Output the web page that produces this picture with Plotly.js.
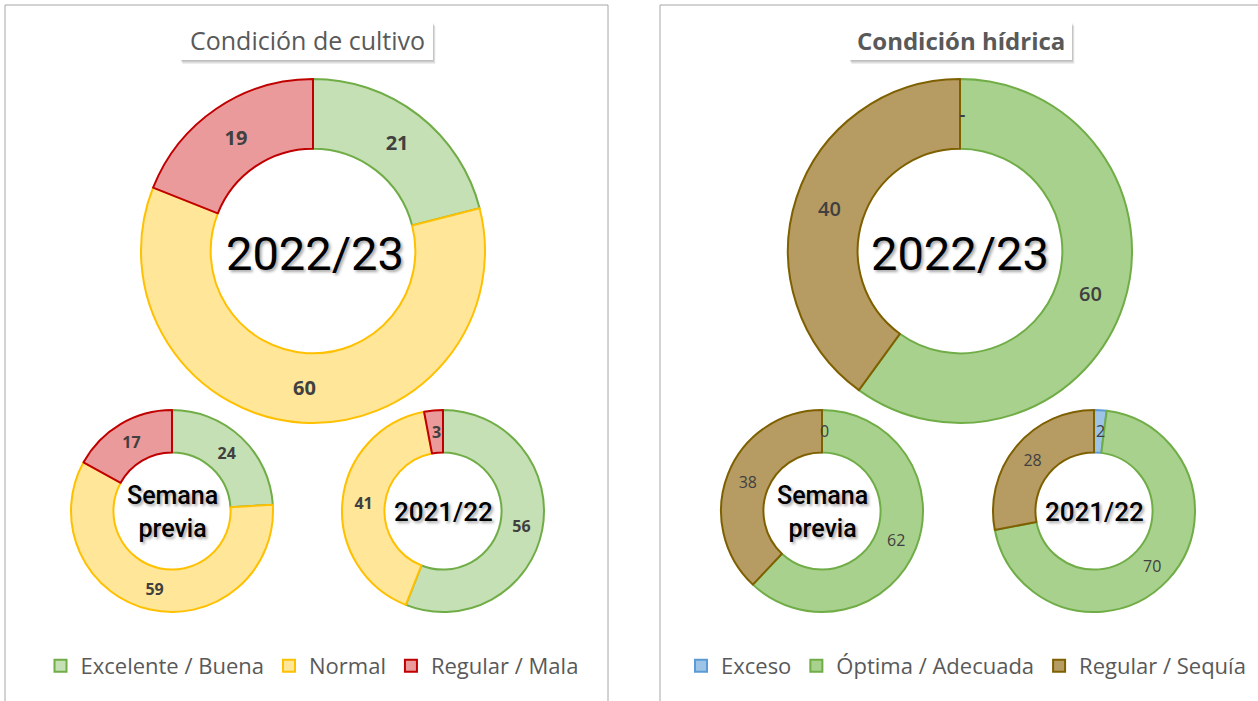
<!DOCTYPE html>
<html>
<head>
<meta charset="utf-8">
<script src="https://cdn.plot.ly/plotly-3.0.1.min.js"></script>
<style>html,body{margin:0;padding:0;background:#fff;}#chart{width:1258px;height:701px;}</style>
</head>
<body>
<div id="chart"></div>
<script>
// ---- data ----
var cultivoLabels = ['Excelente / Buena', 'Normal', 'Regular / Mala'];
var cultivoActual = [21, 60, 19];
var cultivoPrevia = [24, 59, 17];
var cultivo2122 = [56, 41, 3];

var hidricaLabels = ['Exceso', 'Óptima / Adecuada', 'Regular / Sequía'];
var hidricaActual = [0, 60, 40];
var hidricaPrevia = [0, 62, 38];
var hidrica2122 = [2, 70, 28];

var centerLabels = ['2022/23', 'Semana<br>previa', '2021/22'];
var panelTitles = ['Condición de cultivo', 'Condición hídrica'];

// ---- styling / geometry ----
var W = 1258, H = 701;
function px(x) { return x / W; }
function py(y) { return 1 - y / H; }

var cultivoFill = ['#C5E0B4', '#FFE699', '#EA9A9A'];
var cultivoLine = ['#70AD47', '#FFC000', '#C00000'];
var hidricaFill = ['#9DC3E6', '#A9D18E', '#B69C63'];
var hidricaLine = ['#5B9BD5', '#70AD47', '#7F6000'];

function dom(cx, cy, r) {
  return { x: [px(cx - r), px(cx + r)], y: [py(cy + r), py(cy - r)] };
}

var annotations = [];
var labelColor = '#404040';

// labels for very thin slices (too narrow for Plotly's inside text) go to annotations
function pieTrace(labels, values, dashZero, fill, line, cx, cy, r, hole, fsize, fweight, legend, showleg) {
  var total = values.reduce(function (a, b) { return a + b; }, 0);
  var cum = 0;
  var text = values.map(function (v) {
    var label = (v === 0 && dashZero) ? '-' : String(v);
    var mid = (cum + v / 2) / total * 2 * Math.PI;
    cum += v;
    if (v / total < 0.035) {
      var rm = r * (1 + hole) / 2;
      annotations.push({ text: label, xref: 'paper', yref: 'paper', showarrow: false,
        x: px(cx + rm * Math.sin(mid) + (v === 0 ? 2 : 1)), y: py(cy - rm * Math.cos(mid)),
        xanchor: 'center', yanchor: 'middle',
        font: { family: 'Open Sans', size: fsize, color: labelColor, weight: fweight } });
      return '';
    }
    return label;
  });
  return {
    type: 'pie', labels: labels, values: values, text: text,
    textinfo: 'text', textposition: 'inside', insidetextorientation: 'horizontal',
    sort: false, direction: 'clockwise', rotation: 0, hole: hole,
    domain: dom(cx, cy, r),
    marker: { colors: fill, line: { color: line, width: 2 } },
    textfont: { family: 'Open Sans', size: fsize, color: labelColor, weight: fweight },
    hoverinfo: 'skip', legend: legend, showlegend: showleg
  };
}

var data = [
  pieTrace(cultivoLabels, cultivoActual, true, cultivoFill, cultivoLine, 313, 251, 172, 0.595, 20, 700, 'legend', true),
  pieTrace(cultivoLabels, cultivoPrevia, false, cultivoFill, cultivoLine, 172, 511, 101, 0.58, 16, 700, 'legend', false),
  pieTrace(cultivoLabels, cultivo2122, false, cultivoFill, cultivoLine, 443, 511, 101, 0.58, 16, 700, 'legend', false),
  pieTrace(hidricaLabels, hidricaActual, true, hidricaFill, hidricaLine, 960, 251, 172, 0.595, 20, 600, 'legend2', true),
  pieTrace(hidricaLabels, hidricaPrevia, false, hidricaFill, hidricaLine, 822, 511, 101, 0.58, 16, 400, 'legend2', false),
  pieTrace(hidricaLabels, hidrica2122, false, hidricaFill, hidricaLine, 1094, 511, 101, 0.58, 16, 400, 'legend2', false)
];

var shadow = '2px 2px 3px rgba(0,0,0,0.35)';
function centerAnn(text, x, y, size, weight) {
  return { text: text, x: px(x), y: py(y), xref: 'paper', yref: 'paper', showarrow: false,
    xanchor: 'center', yanchor: 'middle',
    font: { family: 'Roboto', size: size, color: '#000', weight: weight, shadow: shadow } };
}

annotations.push(
  centerAnn(centerLabels[0], 315, 253, 47, 400),
  centerAnn(centerLabels[1], 172, 512, 25, 500),
  centerAnn(centerLabels[2], 443, 512, 26, 500),
  centerAnn(centerLabels[0], 960, 253, 47, 400),
  centerAnn(centerLabels[1], 822, 512, 25, 500),
  centerAnn(centerLabels[2], 1094, 512, 26, 500),
  { text: panelTitles[0], x: px(307), y: py(40), xref: 'paper', yref: 'paper', showarrow: false,
    xanchor: 'center', yanchor: 'middle', font: { family: 'Open Sans', size: 25, color: '#595959' } },
  { text: panelTitles[1], x: px(961), y: py(40), xref: 'paper', yref: 'paper', showarrow: false,
    xanchor: 'center', yanchor: 'middle', font: { family: 'Open Sans', size: 24, color: '#595959', weight: 700 } }
);

function rect(x0, y0, x1, y1, fill, lineColor, lw, layer, opacity) {
  return { type: 'rect', xref: 'paper', yref: 'paper', x0: px(x0), x1: px(x1), y0: py(y1), y1: py(y0),
    fillcolor: fill, line: { color: lineColor, width: lw }, layer: layer, opacity: opacity === undefined ? 1 : opacity };
}
var shapes = [
  rect(5, 5, 608, 720, 'rgba(0,0,0,0)', '#A6A6A6', 1, 'below'),
  rect(660, 5, 1270, 720, 'rgba(0,0,0,0)', '#A6A6A6', 1, 'below')
];
// title boxes with soft shadow
[[180, 22, 433, 60], [849, 22, 1072, 60]].forEach(function (b) {
  for (var i = 4; i >= 1; i--) {
    shapes.push(rect(b[0] + i * 0.6, b[1] + i, b[2] + i * 0.6, b[3] + i, '#000', 'rgba(0,0,0,0)', 0, 'below', 0.07));
  }
  shapes.push(rect(b[0], b[1], b[2], b[3], '#fff', 'rgba(0,0,0,0)', 0, 'below'));
});

var legendFont = { family: 'Open Sans', size: 22, color: '#595959' };
var layout = {
  width: W, height: H, margin: { l: 0, r: 0, t: 0, b: 0 },
  paper_bgcolor: '#fff', plot_bgcolor: '#fff',
  annotations: annotations, shapes: shapes,
  legend: { orientation: 'h', x: px(312), y: py(666), xanchor: 'center', yanchor: 'middle',
    font: legendFont, bgcolor: 'rgba(0,0,0,0)', traceorder: 'normal', itemwidth: 30 },
  legend2: { orientation: 'h', x: px(966), y: py(666), xanchor: 'center', yanchor: 'middle',
    font: legendFont, bgcolor: 'rgba(0,0,0,0)', traceorder: 'normal', itemwidth: 30 }
};

Plotly.newPlot('chart', data, layout, { staticPlot: true, displayModeBar: false });
</script>
</body>
</html>
